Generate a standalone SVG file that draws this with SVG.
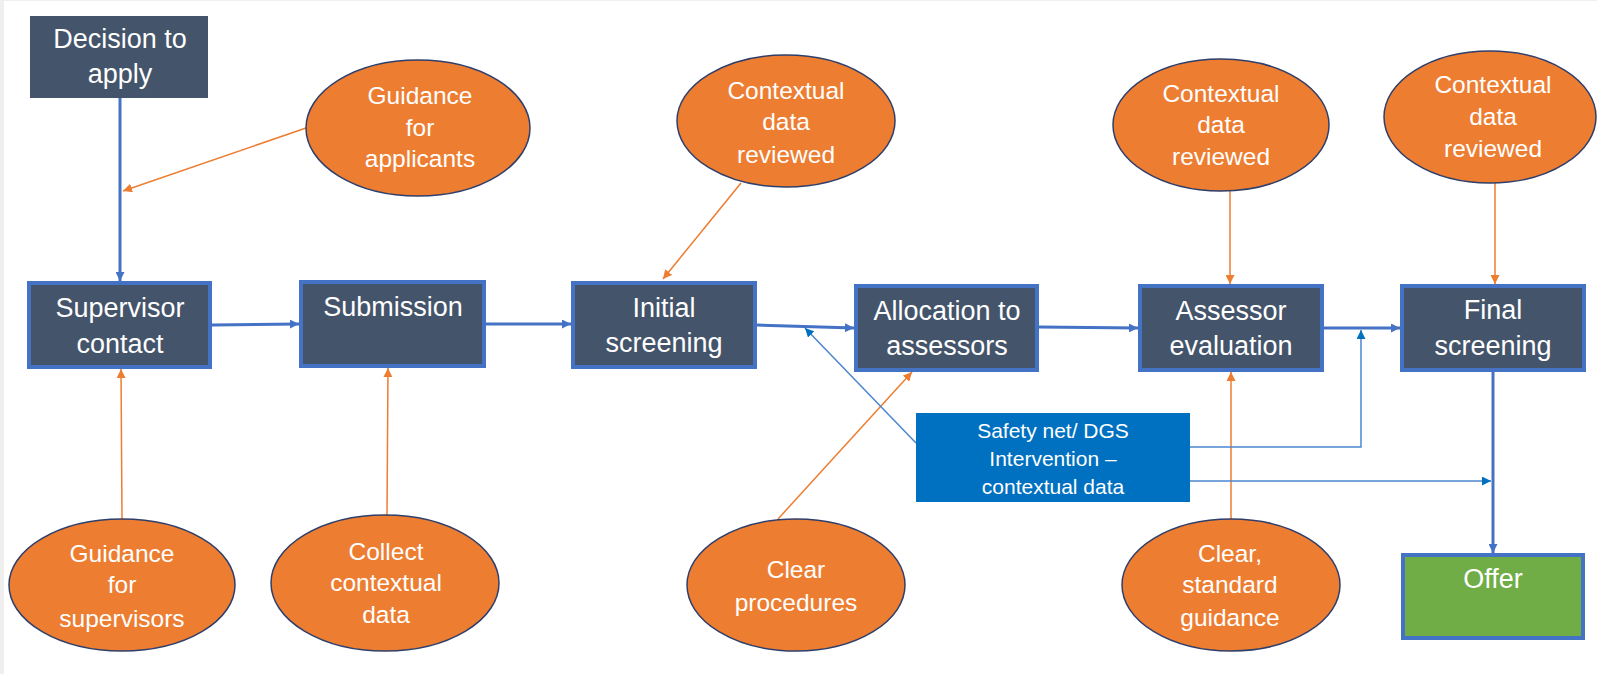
<svg xmlns="http://www.w3.org/2000/svg" width="1597" height="674" viewBox="0 0 1597 674">
<style>
.box{fill:#44546A;stroke:#4472C4;stroke-width:4}
.ell{fill:#ED7D31;stroke:#2F3F6B;stroke-width:1.5}
.bt{font-family:"Liberation Sans",Arial,sans-serif;font-size:27px;fill:#FFFFFF;text-anchor:middle}
.et{font-family:"Liberation Sans",Arial,sans-serif;font-size:24.5px;fill:#FFFFFF;text-anchor:middle}
.st{font-family:"Liberation Sans",Arial,sans-serif;font-size:21px;fill:#FFFFFF;text-anchor:middle}
.main{stroke:#4472C4;stroke-width:3;fill:none;marker-end:url(#ab)}
.or{stroke:#ED7D31;stroke-width:1.5;fill:none;marker-end:url(#ao)}
.thin{stroke:#4A86CF;stroke-width:1.5;fill:none;marker-end:url(#at)}
</style>
<defs>
<marker id="ab" markerUnits="userSpaceOnUse" viewBox="0 0 10 10" refX="10" refY="5" markerWidth="9" markerHeight="9" orient="auto"><path d="M0,0 L10,5 L0,10 z" fill="#4472C4"/></marker>
<marker id="ao" markerUnits="userSpaceOnUse" viewBox="0 0 10 10" refX="10" refY="5" markerWidth="9" markerHeight="9" orient="auto"><path d="M0,0 L10,5 L0,10 z" fill="#ED7D31"/></marker>
<marker id="at" markerUnits="userSpaceOnUse" viewBox="0 0 10 10" refX="10" refY="5" markerWidth="9" markerHeight="9" orient="auto"><path d="M0,0 L10,5 L0,10 z" fill="#0070C0"/></marker>
</defs>
<rect x="0" y="0" width="1597" height="674" fill="#FFFFFF"/>
<rect x="0" y="0" width="4" height="674" fill="#EFEFEF"/>
<rect x="0" y="0" width="1597" height="1" fill="#EFEFEF"/>

<g id="connectors">
  <line class="main" x1="120" y1="98" x2="120" y2="281"/>
  <line class="main" x1="212" y1="325" x2="299" y2="324"/>
  <line class="main" x1="486" y1="324" x2="571" y2="324"/>
  <line class="main" x1="757" y1="325" x2="854" y2="328"/>
  <line class="main" x1="1039" y1="327" x2="1138" y2="328"/>
  <line class="main" x1="1324" y1="328" x2="1400" y2="328"/>
  <line class="main" x1="1493" y1="372" x2="1493" y2="553"/>
  <line class="or" x1="306" y1="128" x2="123" y2="191"/>
  <line class="or" x1="741" y1="183" x2="663" y2="279"/>
  <line class="or" x1="1230" y1="191" x2="1230" y2="284"/>
  <line class="or" x1="1495" y1="183" x2="1495" y2="284"/>
  <line class="or" x1="122" y1="519" x2="121" y2="369"/>
  <line class="or" x1="387" y1="515" x2="388" y2="368"/>
  <line class="or" x1="778" y1="519" x2="912" y2="372"/>
  <line class="or" x1="1231" y1="519" x2="1231" y2="372"/>
  <line class="thin" x1="916" y1="443" x2="805" y2="328"/>
  <polyline class="thin" points="1190,447 1361,447 1361,330"/>
  <line class="thin" x1="1190" y1="481" x2="1491" y2="481"/>
</g>

<g id="decision">
  <rect x="30" y="16" width="178" height="82" fill="#44546A"/>
  <text class="bt" x="120" y="48">Decision to</text>
  <text class="bt" x="120" y="83">apply</text>
</g>
<g id="supervisor-contact">
  <rect class="box" x="29" y="283" width="181" height="84"/>
  <text class="bt" x="120" y="317">Supervisor</text>
  <text class="bt" x="120" y="353">contact</text>
</g>
<g id="submission">
  <rect class="box" x="301" y="282" width="183" height="84"/>
  <text class="bt" x="393" y="316">Submission</text>
</g>
<g id="initial-screening">
  <rect class="box" x="573" y="283" width="182" height="84"/>
  <text class="bt" x="664" y="317">Initial</text>
  <text class="bt" x="664" y="352">screening</text>
</g>
<g id="allocation">
  <rect class="box" x="856" y="286" width="181" height="84"/>
  <text class="bt" x="947" y="320">Allocation to</text>
  <text class="bt" x="947" y="355">assessors</text>
</g>
<g id="assessor-evaluation">
  <rect class="box" x="1140" y="286" width="182" height="84"/>
  <text class="bt" x="1231" y="320">Assessor</text>
  <text class="bt" x="1231" y="355">evaluation</text>
</g>
<g id="final-screening">
  <rect class="box" x="1402" y="286" width="182" height="84"/>
  <text class="bt" x="1493" y="319">Final</text>
  <text class="bt" x="1493" y="355">screening</text>
</g>
<g id="offer">
  <rect x="1403" y="555" width="180" height="83" fill="#70AD47" stroke="#4472C4" stroke-width="4"/>
  <text class="bt" x="1493" y="588">Offer</text>
</g>
<g id="safety-net">
  <rect x="916" y="413" width="274" height="89" fill="#0070C0"/>
  <text class="st" x="1053" y="438">Safety net/ DGS</text>
  <text class="st" x="1053" y="466">Intervention –</text>
  <text class="st" x="1053" y="494">contextual data</text>
</g>

<g id="guidance-applicants">
  <ellipse class="ell" cx="418" cy="128" rx="112" ry="68"/>
  <text class="et" x="420" y="104">Guidance</text>
  <text class="et" x="420" y="136">for</text>
  <text class="et" x="420" y="167">applicants</text>
</g>
<g id="context-reviewed-1">
  <ellipse class="ell" cx="786" cy="121" rx="109" ry="66"/>
  <text class="et" x="786" y="99">Contextual</text>
  <text class="et" x="786" y="130">data</text>
  <text class="et" x="786" y="163">reviewed</text>
</g>
<g id="context-reviewed-2">
  <ellipse class="ell" cx="1221" cy="125" rx="108" ry="66"/>
  <text class="et" x="1221" y="102">Contextual</text>
  <text class="et" x="1221" y="133">data</text>
  <text class="et" x="1221" y="165">reviewed</text>
</g>
<g id="context-reviewed-3">
  <ellipse class="ell" cx="1490" cy="117" rx="106" ry="66"/>
  <text class="et" x="1493" y="93">Contextual</text>
  <text class="et" x="1493" y="125">data</text>
  <text class="et" x="1493" y="157">reviewed</text>
</g>
<g id="guidance-supervisors">
  <ellipse class="ell" cx="122" cy="585" rx="113" ry="66"/>
  <text class="et" x="122" y="562">Guidance</text>
  <text class="et" x="122" y="593">for</text>
  <text class="et" x="122" y="627">supervisors</text>
</g>
<g id="collect-data">
  <ellipse class="ell" cx="385" cy="583" rx="114" ry="68"/>
  <text class="et" x="386" y="560">Collect</text>
  <text class="et" x="386" y="591">contextual</text>
  <text class="et" x="386" y="623">data</text>
</g>
<g id="clear-procedures">
  <ellipse class="ell" cx="796" cy="585" rx="109" ry="66"/>
  <text class="et" x="796" y="578">Clear</text>
  <text class="et" x="796" y="611">procedures</text>
</g>
<g id="clear-guidance">
  <ellipse class="ell" cx="1231" cy="585" rx="109" ry="66"/>
  <text class="et" x="1230" y="562">Clear,</text>
  <text class="et" x="1230" y="593">standard</text>
  <text class="et" x="1230" y="626">guidance</text>
</g>
</svg>
